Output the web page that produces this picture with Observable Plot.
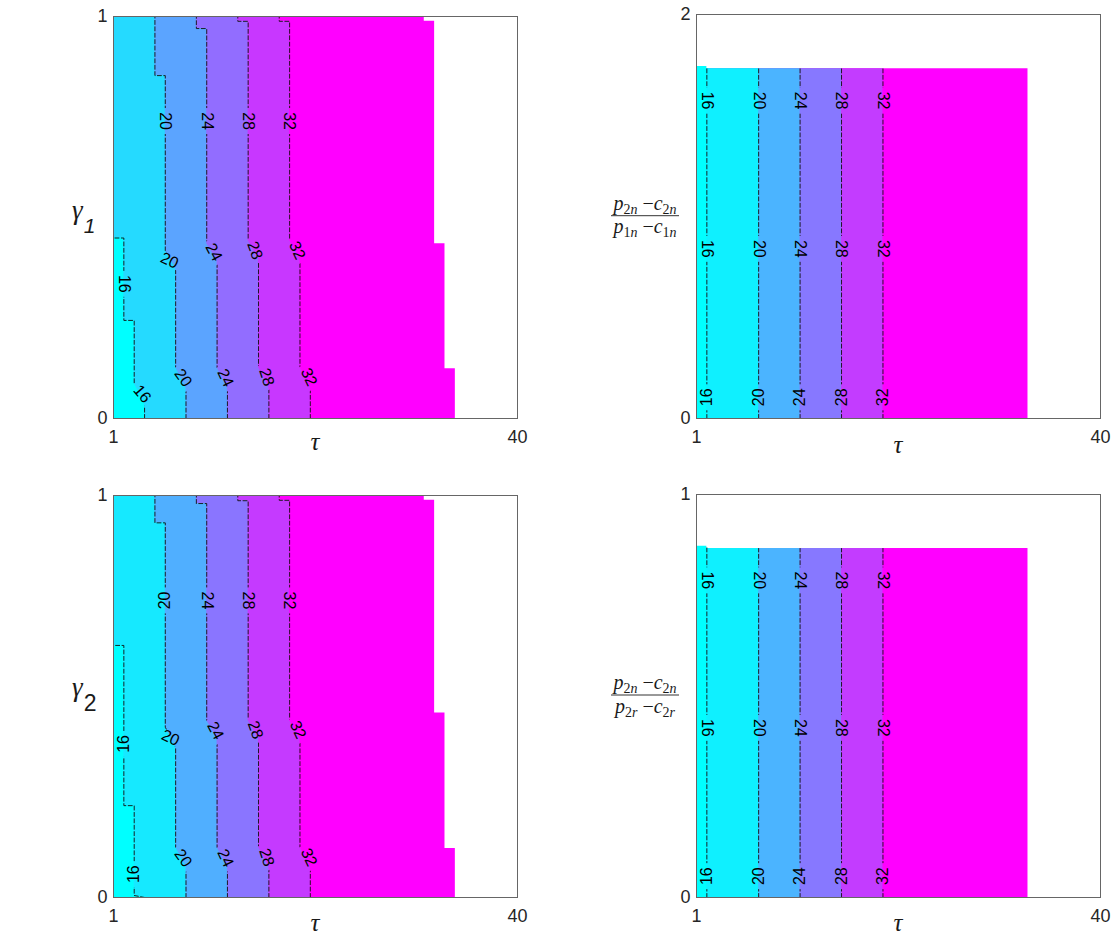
<!DOCTYPE html>
<html><head><meta charset="utf-8">
<script src="https://cdn.jsdelivr.net/npm/d3@7"></script>
<script src="https://cdn.jsdelivr.net/npm/@observablehq/plot@0.6"></script>
<style>
html,body{margin:0;padding:0;background:#fff;}
#page{position:relative;width:1118px;height:935px;overflow:hidden;}
.panel{position:absolute;}
#labels{position:absolute;left:0;top:0;pointer-events:none;}
</style></head>
<body><div id="page"></div>
<script>
// ---------- data ----------
const tauDomain = [1, 40];
const levels = [16, 20, 24, 28, 32];
const xTicks = [1, 40];

// top-left: gamma_1 vs tau  (contour vertices [tau, gamma])
const tl16 = [[4,0],[4,0.04],[3,0.087],[3,0.244],[2,0.244],[2,0.449],[1,0.449]];
const tl20 = [[8,0],[8,0.075],[7,0.127],[7,0.373],[6,0.418],[6,0.853],[5,0.853],[5,1]];
const tl24 = [[12,0],[12,0.077],[11,0.127],[11,0.393],[10,0.435],[10,0.97],[9,0.97],[9,1]];
const tl28 = [[16,0],[16,0.077],[15,0.127],[15,0.398],[14,0.443],[14,0.988],[13,0.988],[13,1]];
const tl32 = [[20,0],[20,0.077],[19,0.127],[19,0.398],[18,0.443],[18,0.988],[17,0.988],[17,1]];
const tlEdge = [[34,0],[34,0.124],[33,0.124],[33,0.435],[32,0.435],[32,0.988],[31,0.988],[31,1]];
const tlRange = [13.3, 32];
const tlLabels = [
  [6,0.74,"20",90],[10,0.74,"24",90],[14,0.74,"28",90],[18,0.74,"32",90],
  [2,0.335,"16",90],
  [6.4,0.393,"20",25],[10.68,0.414,"24",62],[14.64,0.418,"28",70],[18.73,0.418,"32",65],
  [3.77,0.061,"16",50],[7.72,0.101,"20",55],[11.81,0.101,"24",65],[15.77,0.103,"28",72],[19.86,0.103,"32",65]
];

// bottom-left: gamma_2 vs tau
const bl16 = [[4,0],[3,0.005],[3,0.2285],[2,0.2285],[2,0.627],[1,0.627]];
const bl20 = [[8,0],[8,0.075],[7,0.125],[7,0.374],[6,0.4235],[6,0.932],[5,0.932],[5,1]];
const bl24 = [[12,0],[12,0.075],[11,0.125],[11,0.395],[10,0.44],[10,0.98],[9,0.98],[9,1]];
const bl28 = [[16,0],[16,0.075],[15,0.125],[15,0.395],[14,0.44],[14,0.987],[13,0.987],[13,1]];
const bl32 = [[20,0],[20,0.075],[19,0.125],[19,0.395],[18,0.44],[18,0.988],[17,0.988],[17,1]];
const blEdge = [[34,0],[34,0.122],[33,0.122],[33,0.459],[32,0.459],[32,0.988],[31,0.988],[31,1]];
const blRange = [14.5, 32];
const blLabels = [
  [6,0.739,"20",-90],[10,0.739,"24",90],[14,0.739,"28",90],[18,0.739,"32",90],
  [2,0.382,"16",-90],[3,0.058,"16",-90],
  [6.49,0.397,"20",25],[10.83,0.415,"24",62],[14.7,0.417,"28",70],[18.8,0.417,"32",65],
  [7.72,0.098,"20",55],[11.81,0.098,"24",65],[15.77,0.1,"28",72],[19.86,0.1,"32",65]
];

// top-right: (p2n-c2n)/(p1n-c1n) vs tau
const tr16 = [[2,0],[2,1.742]];
const tr20 = [[7,0],[7,1.731]];
const tr24 = [[11,0],[11,1.731]];
const tr28 = [[15,0],[15,1.731]];
const tr32 = [[19,0],[19,1.731]];
const trEdge = [[33,0],[33,1.731]];
const trRange = [15, 32];
const trLabels = [
  [2,1.574,"16",90],[7,1.574,"20",90],[11,1.574,"24",90],[15,1.574,"28",90],[19,1.574,"32",90],
  [2,0.84,"16",90],[7,0.84,"20",90],[11,0.84,"24",90],[15,0.84,"28",90],[19,0.84,"32",90],
  [2,0.105,"16",-90],[7,0.105,"20",-90],[11,0.105,"24",-90],[15,0.105,"28",-90],[19,0.105,"32",-90]
];

// bottom-right: (p2n-c2n)/(p2r-c2r) vs tau
const br16 = [[2,0],[2,0.8715]];
const br20 = [[7,0],[7,0.866]];
const br24 = [[11,0],[11,0.866]];
const br28 = [[15,0],[15,0.866]];
const br32 = [[19,0],[19,0.866]];
const brEdge = [[33,0],[33,0.866]];
const brRange = [15, 32];
const brLabels = [
  [2,0.787,"16",90],[7,0.787,"20",90],[11,0.787,"24",90],[15,0.787,"28",90],[19,0.787,"32",90],
  [2,0.421,"16",90],[7,0.421,"20",90],[11,0.421,"24",90],[15,0.421,"28",90],[19,0.421,"32",90],
  [2,0.053,"16",-90],[7,0.053,"20",-90],[11,0.053,"24",-90],[15,0.053,"28",-90],[19,0.053,"32",-90]
];

// ---------- drawing ----------
const NS = "http://www.w3.org/2000/svg";
let maskId = 0;

function makePanel(cfg) {
  const {ml, mt, iw, ih, mr, mb, yMax, cRange, contours, edge, labels} = cfg;
  const bands = [{level: levels[levels.length - 1], pts: edge}];
  for (let i = contours.length - 1; i >= 0; i--) bands.push({level: levels[i] - 4, pts: contours[i]});
  const marks = bands.map(b => Plot.areaX(b.pts, {
    y: d => d[1], x1: tauDomain[0], x2: d => d[0], fill: () => b.level, curve: "linear"
  }));
  const lineData = contours.flatMap((c, i) => c.map(p => ({t: p[0], g: p[1], k: i})));
  marks.push(Plot.line(lineData, {x: "t", y: "g", z: "k", stroke: "#111", strokeWidth: 0.9, strokeDasharray: "4,2.4"}));
  marks.push(Plot.text(labels, {x: d => d[0], y: d => d[1], text: d => d[2], rotate: d => d[3], fontSize: 16, fill: "#000"}));
  marks.push(Plot.frame({stroke: "#666", strokeWidth: 1}));
  marks.push(Plot.axisX(xTicks, {tickSize: 0, tickPadding: 12, fontSize: 18, label: null, tickFormat: d => String(d)}));
  marks.push(Plot.axisY([0, yMax], {tickSize: 0, tickPadding: 6, fontSize: 18, label: null, tickFormat: d => String(d)}));
  const svg = Plot.plot({
    width: ml + iw + mr, height: mt + ih + mb,
    marginLeft: ml, marginTop: mt, marginRight: mr, marginBottom: mb,
    x: {domain: tauDomain, label: null},
    y: {domain: [0, yMax], label: null},
    color: {type: "linear", domain: cRange, range: ["#00ffff", "#ff00ff"], interpolate: "rgb", clamp: true},
    style: {fontFamily: "'Liberation Sans', Arial, sans-serif", fontSize: "18px", color: "#262626", background: "transparent", overflow: "visible"},
    marks
  });
  // gaps in the contour lines under the labels
  const sx = svg.scale("x"), sy = svg.scale("y");
  const lineG = svg.querySelector('g[aria-label="line"]');
  if (lineG) {
    const id = "gap" + (maskId++);
    const defs = document.createElementNS(NS, "defs");
    const mask = document.createElementNS(NS, "mask");
    mask.setAttribute("id", id);
    mask.setAttribute("maskUnits", "userSpaceOnUse");
    mask.setAttribute("x", 0); mask.setAttribute("y", 0);
    mask.setAttribute("width", ml + iw + mr); mask.setAttribute("height", mt + ih + mb);
    const bg = document.createElementNS(NS, "rect");
    bg.setAttribute("x", 0); bg.setAttribute("y", 0);
    bg.setAttribute("width", ml + iw + mr); bg.setAttribute("height", mt + ih + mb);
    bg.setAttribute("fill", "#fff");
    mask.appendChild(bg);
    for (const l of labels) {
      const r = document.createElementNS(NS, "rect");
      r.setAttribute("x", -13); r.setAttribute("y", -6);
      r.setAttribute("width", 26); r.setAttribute("height", 12);
      r.setAttribute("fill", "#000");
      r.setAttribute("transform", `translate(${sx.apply(l[0])},${sy.apply(l[1])}) rotate(${l[3]})`);
      mask.appendChild(r);
    }
    defs.appendChild(mask);
    svg.insertBefore(defs, svg.firstChild);
    lineG.setAttribute("mask", `url(#${id})`);
  }
  const div = document.createElement("div");
  div.className = "panel";
  div.style.left = cfg.left + "px";
  div.style.top = cfg.top + "px";
  div.appendChild(svg);
  return div;
}

const page = document.getElementById("page");
page.appendChild(makePanel({left: 0, top: 0, ml: 113, mt: 16, iw: 404, ih: 402, mr: 30, mb: 42, yMax: 1, cRange: tlRange,
  contours: [tl16, tl20, tl24, tl28, tl32], edge: tlEdge, labels: tlLabels}));
page.appendChild(makePanel({left: 582, top: 0, ml: 114, mt: 14, iw: 404, ih: 404, mr: 18, mb: 42, yMax: 2, cRange: trRange,
  contours: [tr16, tr20, tr24, tr28, tr32], edge: trEdge, labels: trLabels}));
page.appendChild(makePanel({left: 0, top: 480, ml: 113, mt: 15, iw: 404, ih: 402, mr: 30, mb: 38, yMax: 1, cRange: blRange,
  contours: [bl16, bl20, bl24, bl28, bl32], edge: blEdge, labels: blLabels}));
page.appendChild(makePanel({left: 582, top: 480, ml: 114, mt: 14, iw: 404, ih: 403, mr: 18, mb: 38, yMax: 1, cRange: brRange,
  contours: [br16, br20, br24, br28, br32], edge: brEdge, labels: brLabels}));

// ---------- axis titles ----------
const lab = document.createElementNS(NS, "svg");
lab.setAttribute("id", "labels");
lab.setAttribute("width", 1118); lab.setAttribute("height", 935);
lab.innerHTML = `
<g font-family="'Liberation Serif', 'DejaVu Serif', serif" fill="#1a1a1a">
  <text x="315" y="450" font-size="25" font-style="italic" text-anchor="middle">τ</text>
  <text x="898" y="453" font-size="25" font-style="italic" text-anchor="middle">τ</text>
  <text x="315" y="931" font-size="25" font-style="italic" text-anchor="middle">τ</text>
  <text x="898" y="931" font-size="25" font-style="italic" text-anchor="middle">τ</text>
  <text x="72" y="219" font-size="27" font-style="italic">γ<tspan font-family="'Liberation Sans', Arial, sans-serif" font-size="21" dx="1" dy="14">1</tspan></text>
  <text x="72" y="696" font-size="27" font-style="italic">γ<tspan font-family="'Liberation Sans', Arial, sans-serif" font-style="normal" font-size="23" dx="1" dy="15">2</tspan></text>
  <text x="645" y="209.5" font-size="20" text-anchor="middle"><tspan font-style="italic">p</tspan><tspan font-size="14" dy="4">2<tspan font-style="italic">n</tspan></tspan><tspan dy="-4"> −</tspan><tspan font-style="italic">c</tspan><tspan font-size="14" dy="4">2<tspan font-style="italic">n</tspan></tspan></text>
  <line x1="611" x2="679" y1="215.7" y2="215.7" stroke="#333" stroke-width="1"/>
  <text x="645" y="233" font-size="20" text-anchor="middle"><tspan font-style="italic">p</tspan><tspan font-size="14" dy="4">1<tspan font-style="italic">n</tspan></tspan><tspan dy="-4"> −</tspan><tspan font-style="italic">c</tspan><tspan font-size="14" dy="4">1<tspan font-style="italic">n</tspan></tspan></text>
  <text x="645" y="689" font-size="20" text-anchor="middle"><tspan font-style="italic">p</tspan><tspan font-size="14" dy="4">2<tspan font-style="italic">n</tspan></tspan><tspan dy="-4"> −</tspan><tspan font-style="italic">c</tspan><tspan font-size="14" dy="4">2<tspan font-style="italic">n</tspan></tspan></text>
  <line x1="611" x2="679" y1="695" y2="695" stroke="#333" stroke-width="1"/>
  <text x="645" y="712.5" font-size="20" text-anchor="middle"><tspan font-style="italic">p</tspan><tspan font-size="14" dy="4">2<tspan font-style="italic">r</tspan></tspan><tspan dy="-4"> −</tspan><tspan font-style="italic">c</tspan><tspan font-size="14" dy="4">2<tspan font-style="italic">r</tspan></tspan></text>
</g>`;
page.appendChild(lab);
</script>
</body></html>
